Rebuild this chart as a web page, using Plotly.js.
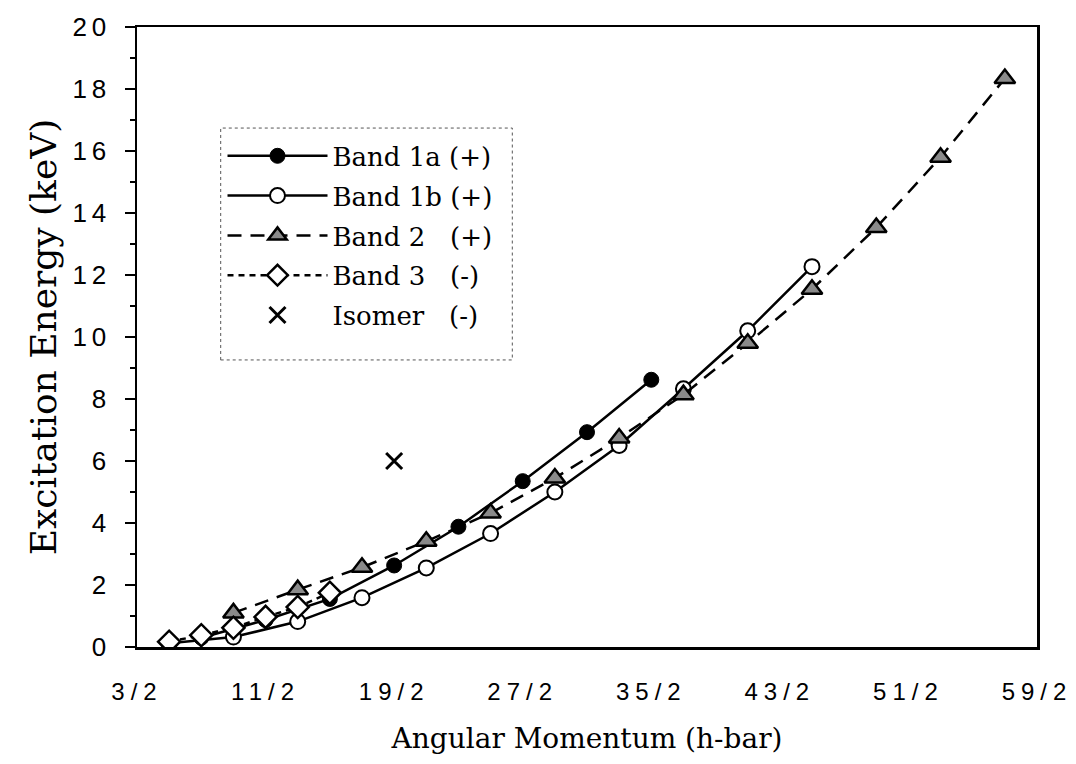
<!DOCTYPE html>
<html>
<head>
<meta charset="utf-8">
<script src="https://cdn.plot.ly/plotly-3.0.1.min.js"></script>
<style>
  html, body { margin: 0; padding: 0; background: #fff; }
  #chart { width: 1076px; height: 764px; }
  .xtick text { letter-spacing: 6px; }
  .ytick text { letter-spacing: 5px; }
</style>
</head>
<body>
<div id="chart"></div>
<script>
// Spin values (in units of h-bar) and excitation energies
const band1aSpin = [3.5, 5.5, 7.5, 9.5, 11.5, 13.5, 15.5, 17.5];
const band1aE    = [0.30, 0.87, 1.55, 2.63, 3.88, 5.35, 6.93, 8.62];

const band1bSpin = [2.5, 4.5, 6.5, 8.5, 10.5, 12.5, 14.5, 16.5, 18.5, 20.5, 22.5];
const band1bE    = [0.12, 0.32, 0.82, 1.59, 2.55, 3.66, 5.00, 6.50, 8.33, 10.20, 12.27];

const band2Spin = [4.5, 6.5, 8.5, 10.5, 12.5, 14.5, 16.5, 18.5, 20.5, 22.5, 24.5, 26.5, 28.5];
const band2E    = [1.10, 1.85, 2.57, 3.41, 4.32, 5.45, 6.74, 8.14, 9.80, 11.54, 13.53, 15.80, 18.34];

const band3Spin = [2.5, 3.5, 4.5, 5.5, 6.5, 7.5];
const band3E    = [0.17, 0.38, 0.62, 0.97, 1.29, 1.75];

const isomerSpin = [9.5];
const isomerE    = [6.0];

const xTickVals  = [1.5, 5.5, 9.5, 13.5, 17.5, 21.5, 25.5, 29.5];
const xTickText  = ['3/2', '11/2', '19/2', '27/2', '35/2', '43/2', '51/2', '59/2'];

const serif = '"DejaVu Serif", "Liberation Serif", serif';
const sans = '"Liberation Sans", Arial, sans-serif';

const traces = [
  {
    x: band1aSpin, y: band1aE, name: 'Band 1a (+)', legendgroup: 'a',
    mode: 'lines+markers', type: 'scatter',
    line: {color: '#000', width: 2.5},
    marker: {symbol: 'circle', size: 15, color: '#000', line: {color: '#000', width: 1}}
  },
  {
    x: band1bSpin, y: band1bE, name: 'Band 1b (+)', legendgroup: 'b',
    mode: 'lines+markers', type: 'scatter',
    line: {color: '#000', width: 2.5},
    marker: {symbol: 'circle', size: 15, color: '#fff', line: {color: '#000', width: 2}}
  },
  {
    x: band2Spin, y: band2E, name: 'Band 2   (+)', legendgroup: 'c',
    mode: 'lines+markers', type: 'scatter',
    line: {color: '#000', width: 2.5, dash: '14px,9px'},
    marker: {symbol: 'triangle-up', size: 18, color: '#8a8a8a', line: {color: '#000', width: 2.5}}
  },
  {
    x: band3Spin, y: band3E, name: 'Band 3   (-)', legendgroup: 'd',
    mode: 'lines+markers', type: 'scatter',
    line: {color: '#000', width: 2.5, dash: '6px,5px'},
    marker: {symbol: 'diamond', size: 17, color: '#fff', line: {color: '#000', width: 2.5}}
  },
  {
    x: isomerSpin, y: isomerE, name: 'Isomer   (-)', legendgroup: 'e',
    mode: 'markers', type: 'scatter',
    marker: {symbol: 'x-thin-open', size: 16, color: '#000', line: {color: '#000', width: 3}}
  }
];

const layout = {
  width: 1076, height: 764,
  margin: {l: 137, r: 39, t: 27, b: 117},
  paper_bgcolor: '#fff', plot_bgcolor: '#fff',
  showlegend: true,
  legend: {
    x: 0.095, y: 0.83, xanchor: 'left', yanchor: 'top',
    bgcolor: 'rgba(255,255,255,0)', borderwidth: 0,
    font: {family: serif, size: 26, color: '#000'},
    itemwidth: 100, tracegroupgap: 3
  },
  xaxis: {
    range: [1.5, 29.5],
    tickvals: xTickVals, ticktext: xTickText,
    showgrid: false, zeroline: false,
    showline: true, linecolor: '#000', linewidth: 2.5, mirror: true,
    ticks: '', ticklabelstandoff: 22,
    tickfont: {family: sans, size: 24, color: '#000'},
    title: {text: 'Angular Momentum (h-bar)', font: {family: serif, size: 28, color: '#000'}, standoff: 24}
  },
  yaxis: {
    range: [0, 20], dtick: 2, tick0: 0,
    showgrid: false, zeroline: false,
    showline: true, linecolor: '#000', linewidth: 2.5, mirror: true,
    ticks: 'outside', ticklen: 10, tickwidth: 1.5, tickcolor: '#000',
    ticklabelstandoff: 8,
    minor: {dtick: 1, ticks: 'outside', ticklen: 5, tickwidth: 1.5, tickcolor: '#000'},
    tickfont: {family: sans, size: 26, color: '#000'},
    title: {text: 'Excitation Energy (keV)', font: {family: serif, size: 36, color: '#000'}, standoff: 5}
  },
  shapes: [
    {type: 'rect', xref: 'paper', yref: 'paper', x0: 0.093, x1: 0.417, y0: 0.463, y1: 0.837,
     line: {color: '#555', width: 1, dash: 'dot'}, fillcolor: 'rgba(0,0,0,0)', layer: 'below'}
  ]
};

Plotly.newPlot('chart', traces, layout, {displayModeBar: false, staticPlot: true});
</script>
</body>
</html>
